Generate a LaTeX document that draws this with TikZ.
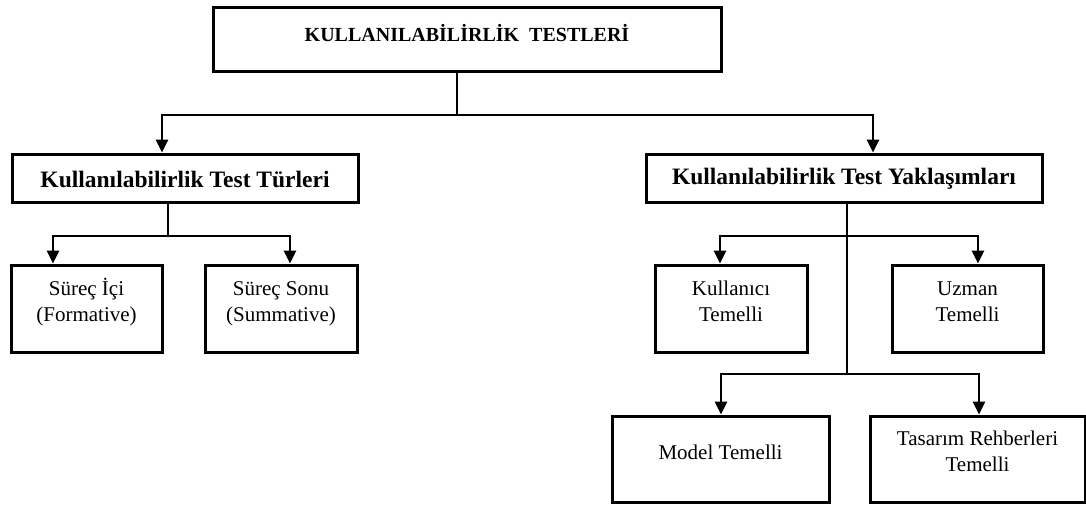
\documentclass[tikz,border=0pt]{standalone}
\usepackage{fontspec}
\setmainfont{Liberation Serif}
\usetikzlibrary{arrows.meta}
\newcommand{\tallstrut}{\vphantom{İ}}
\newcommand{\deepstrut}{\vphantom{()}}
\tikzset{
  box/.style={draw=black, line width=3pt, rectangle, inner sep=0pt},
  txt/.style={font=\fontsize{21}{26}\selectfont, align=center, inner sep=0pt},
  headtxt/.style={font=\fontsize{23.5}{28}\selectfont\bfseries, inner sep=0pt},
  titletxt/.style={font=\fontsize{20}{24}\selectfont\bfseries, inner sep=0pt},
  ln/.style={line width=2.8pt, draw=black},
  arr/.style={ln, -{Triangle[width=12pt,length=13pt]}},
}
\begin{document}
\begin{tikzpicture}[x=1pt, y=-1pt]
\useasboundingbox (0,0) rectangle (1086,504);

% top level
\node[box, minimum width=508, minimum height=64] (top) at (467,39) {};
\node[titletxt] (toptext) at (467,33) {KULLANILABİLİRLİK\ \ TESTLERİ};

% second level
\node[box, minimum width=346, minimum height=48] (lm) at (185,178) {};
\node[headtxt] (lmtext) at (185,179) {Kullanılabilirlik Test Türleri};
\node[box, minimum width=396, minimum height=48] (rm) at (844,178) {};
\node[headtxt] (rmtext) at (844,179) {Kullanılabilirlik Test Yaklaşımları};

% test types
\node[box, minimum width=151, minimum height=87] (ici) at (86.5,308.5) {};
\node[txt] (icitext) at (86.5,302) {\tallstrut Süreç İçi\\\deepstrut(Formative)};
\node[box, minimum width=152, minimum height=87] (sonu) at (281,308.5) {};
\node[txt] (sonutext) at (281,302) {\tallstrut Süreç Sonu\\\deepstrut(Summative)};

% test approaches
\node[box, minimum width=152, minimum height=87] (kul) at (731,308.5) {};
\node[txt] (kultext) at (731,302) {\tallstrut Kullanıcı\\\deepstrut Temelli};
\node[box, minimum width=151, minimum height=87] (uzm) at (967.5,308.5) {};
\node[txt] (uzmtext) at (967.5,302) {\tallstrut Uzman\\\deepstrut Temelli};
\node[box, minimum width=217, minimum height=86] (mod) at (720.5,459) {};
\node[txt] (modtext) at (720.5,452) {Model Temelli};
\node[box, minimum width=215, minimum height=86] (tas) at (977.5,459) {};
\node[txt] (tastext) at (977.5,452) {\tallstrut Tasarım Rehberleri\\\deepstrut Temelli};

% connectors from the top box
\coordinate (j1) at (457,115);
\draw[ln] (top.south -| j1) -- (j1);
\draw[arr] (j1) -| (162,0 |- lm.north);
\draw[arr] (j1) -| (873,0 |- rm.north);

% connectors of the test types
\coordinate (j2) at (168,236);
\draw[ln] (lm.south -| j2) -- (j2);
\draw[arr] (j2) -| (53,0 |- ici.north);
\draw[arr] (j2) -| (290,0 |- sonu.north);

% connectors of the test approaches
\coordinate (j3) at (847,236);
\coordinate (j4) at (847,374);
\draw[ln] (rm.south -| j3) -- (j4);
\draw[arr] (j3) -| (720,0 |- kul.north);
\draw[arr] (j3) -| (978,0 |- uzm.north);
\draw[arr] (j4) -| (721,0 |- mod.north);
\draw[arr] (j4) -| (979,0 |- tas.north);
\end{tikzpicture}
\end{document}
